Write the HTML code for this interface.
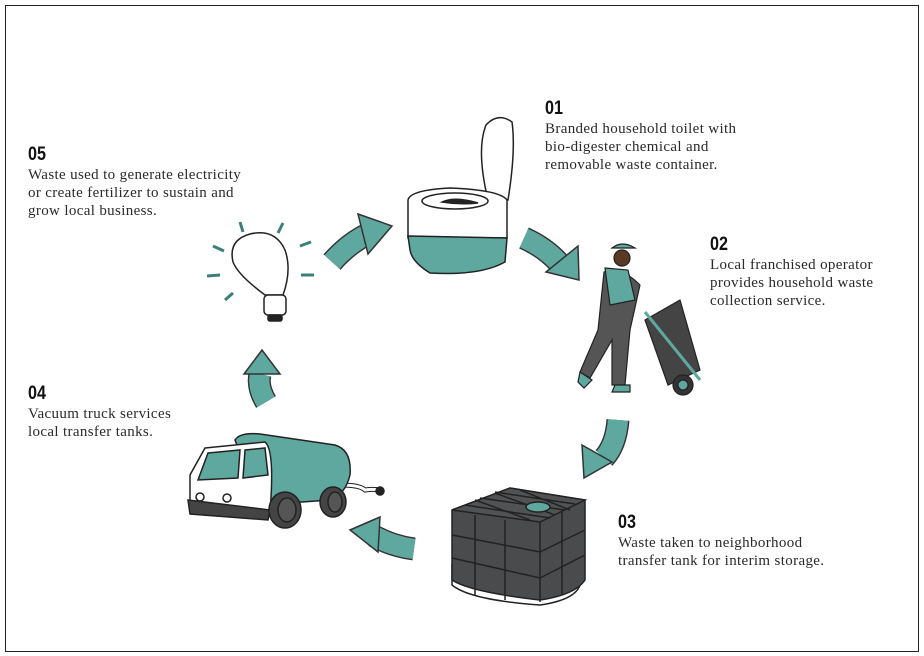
<!DOCTYPE html>
<html><head><style>
body{margin:0;background:#fff;width:924px;height:656px;overflow:hidden;position:relative;font-family:"Liberation Serif",serif;}
.frame{position:absolute;left:5px;top:5px;width:912px;height:645px;border:1px solid #222;}
.t{position:absolute;color:#2a2a2a;font-size:15px;letter-spacing:0.35px;line-height:18px;white-space:nowrap;}
.t b{display:block;font-family:"Liberation Sans",sans-serif;font-weight:bold;font-size:19px;line-height:22px;letter-spacing:0;transform:scaleX(.85);transform-origin:left;color:#111;}
svg{position:absolute;left:0;top:0}
</style></head><body>
<div class="frame"></div>
<svg width="924" height="656" viewBox="0 0 924 656">
<g stroke-linecap="butt" fill="none">
<path d="M332 262 Q350 242 370 233" stroke="#333" stroke-width="23"/>
<path d="M332 262 Q350 242 370 233" stroke="#5fa8a0" stroke-width="20"/>
<path d="M524 238 Q546 248 560 264" stroke="#333" stroke-width="23"/>
<path d="M524 238 Q546 248 560 264" stroke="#5fa8a0" stroke-width="20"/>
<path d="M618 420 Q616 445 604 458" stroke="#333" stroke-width="23"/>
<path d="M618 420 Q616 445 604 458" stroke="#5fa8a0" stroke-width="20"/>
<path d="M414 549 Q392 546 374 536" stroke="#333" stroke-width="23"/>
<path d="M414 549 Q392 546 374 536" stroke="#5fa8a0" stroke-width="20"/>
<path d="M266 402 Q257 387 260 374" stroke="#333" stroke-width="23"/>
<path d="M266 402 Q257 387 260 374" stroke="#5fa8a0" stroke-width="20"/>
</g>
<g stroke="#5fa8a0" stroke-width="20" fill="none">
<path d="M332 262 Q350 242 370 233"/><path d="M524 238 Q546 248 560 264"/><path d="M618 420 Q616 445 604 458"/><path d="M414 549 Q392 546 374 536"/><path d="M266 402 Q257 387 260 374"/>
</g>
<g fill="#5fa8a0" stroke="#333" stroke-width="1.5">
<polygon points="358,214 392,226 368,254"/>
<polygon points="578,246 579,280 546,272"/>
<polygon points="582,445 612,462 584,478"/>
<polygon points="380,517 350,530 378,552"/>
<polygon points="244,374 262,350 280,374"/>
</g>
<!-- toilet -->
<g stroke="#222" stroke-width="1.5">
<path d="M488 200 Q476 150 486 125 Q498 112 512 122 Q516 150 508 200Z" fill="#fff"/>
<path d="M408 200 Q410 190 450 188 Q500 190 507 200 L507 238 L408 238Z" fill="#fff"/>
<ellipse cx="455" cy="201" rx="33" ry="8" fill="#fff"/>
<path d="M442 202 Q455 196 478 203 Q460 205 442 202Z" fill="#222"/>
<path d="M408 236 L507 238 L505 262 Q480 276 430 273 Q412 262 410 250Z" fill="#5fa8a0"/>
</g>
<!-- bulb -->
<g stroke="#222" stroke-width="1.5" fill="#fff">
<path d="M265 295 Q238 275 233 262 Q228 240 250 234 Q275 228 285 250 Q292 270 283 295Z"/>
<rect x="264" y="295" width="22" height="20" rx="4"/>
<rect x="268" y="315" width="14" height="6" rx="2" fill="#222"/>
</g>
<g stroke="#3a7f7a" stroke-width="3">
<line x1="240" y1="222" x2="243" y2="232"/><line x1="283" y1="223" x2="278" y2="233"/>
<line x1="213" y1="246" x2="224" y2="251"/><line x1="300" y1="246" x2="311" y2="242"/>
<line x1="207" y1="276" x2="220" y2="275"/><line x1="301" y1="275" x2="314" y2="275"/>
<line x1="225" y1="300" x2="233" y2="293"/>
</g>
<!-- worker -->
<g stroke="#222" stroke-width="1.2">
<circle cx="622" cy="258" r="8" fill="#5a3a22"/>
<path d="M612 248 Q622 240 635 248Z" fill="#5fa8a0"/>
<path d="M604 272 Q620 265 640 285 L630 330 L625 385 L612 385 L612 340 L590 378 L580 372 L598 330Z" fill="#555"/>
<path d="M605 268 L628 270 L635 300 L610 305Z" fill="#5fa8a0"/>
<path d="M580 372 L592 380 L584 388 L578 382Z" fill="#5fa8a0"/>
<path d="M615 385 L630 385 L630 392 L612 392Z" fill="#5fa8a0"/>
<path d="M645 320 L680 300 L700 370 L668 385Z" fill="#444"/>
<circle cx="683" cy="385" r="10" fill="#333"/>
<circle cx="683" cy="385" r="5" fill="#5fa8a0"/>
<line x1="645" y1="312" x2="700" y2="380" stroke="#5fa8a0" stroke-width="3"/>
</g>
<!-- tank -->
<g stroke="#222" stroke-width="1.5">
<path d="M452 565 L452 585 Q470 600 540 605 Q575 600 580 585 L580 565Z" fill="#fff"/>
<path d="M452 510 L510 488 L585 500 L585 580 Q575 595 540 600 Q470 592 452 580Z" fill="#4a4b4d"/>
<path d="M452 510 L510 488 L585 500 L540 522Z" fill="#515254"/>
<path d="M465 505 L550 518 M480 498 L565 510 M495 492 L575 504 M475 500 L530 520 M495 493 L555 515 M520 490 L570 510 M452 535 L540 552 L585 530 M452 558 L540 578 L585 555 M475 515 L475 595 M505 520 L505 600 M540 522 L540 602 M562 512 L562 594" fill="none"/>
<ellipse cx="538" cy="507" rx="12" ry="5" fill="#5fa8a0"/>
</g>
<!-- truck -->
<g stroke="#222" stroke-width="1.5">
<path d="M340 485 Q360 485 365 490 Q378 488 383 492" fill="none" stroke-width="5"/>
<path d="M340 485 Q360 485 365 490 Q378 488 383 492" fill="none" stroke="#fff" stroke-width="3"/>
<circle cx="380" cy="491" r="4" fill="#222"/>
<path d="M235 440 Q240 432 260 434 L335 445 Q352 450 350 475 Q345 495 330 500 L260 505Z" fill="#5fa8a0"/>
<path d="M205 448 L265 442 Q275 450 270 512 L190 508 L190 475Z" fill="#fff"/>
<path d="M208 453 L240 450 L238 478 L198 480Z" fill="#5fa8a0"/>
<path d="M245 450 L265 448 L268 475 L243 478Z" fill="#5fa8a0"/>
<path d="M188 500 L270 510 L268 520 L190 514Z" fill="#444"/>
<circle cx="200" cy="497" r="4" fill="#fff"/><circle cx="227" cy="498" r="4" fill="#fff"/>
<ellipse cx="285" cy="510" rx="16" ry="18" fill="#444"/><ellipse cx="287" cy="510" rx="9" ry="12" fill="#555"/>
<ellipse cx="333" cy="502" rx="13" ry="15" fill="#444"/><ellipse cx="335" cy="502" rx="7" ry="10" fill="#555"/>
</g>
</svg>
<div class="t" style="left:28px;top:144px"><b>05</b>Waste used to generate electricity<br>or create fertilizer to sustain and<br>grow local business.</div>
<div class="t" style="left:545px;top:98px"><b>01</b>Branded household toilet with<br>bio-digester chemical and<br>removable waste container.</div>
<div class="t" style="left:710px;top:234px"><b>02</b>Local franchised operator<br>provides household waste<br>collection service.</div>
<div class="t" style="left:618px;top:512px"><b>03</b>Waste taken to neighborhood<br>transfer tank for interim storage.</div>
<div class="t" style="left:28px;top:383px"><b>04</b>Vacuum truck services<br>local transfer tanks.</div>
</body></html>
